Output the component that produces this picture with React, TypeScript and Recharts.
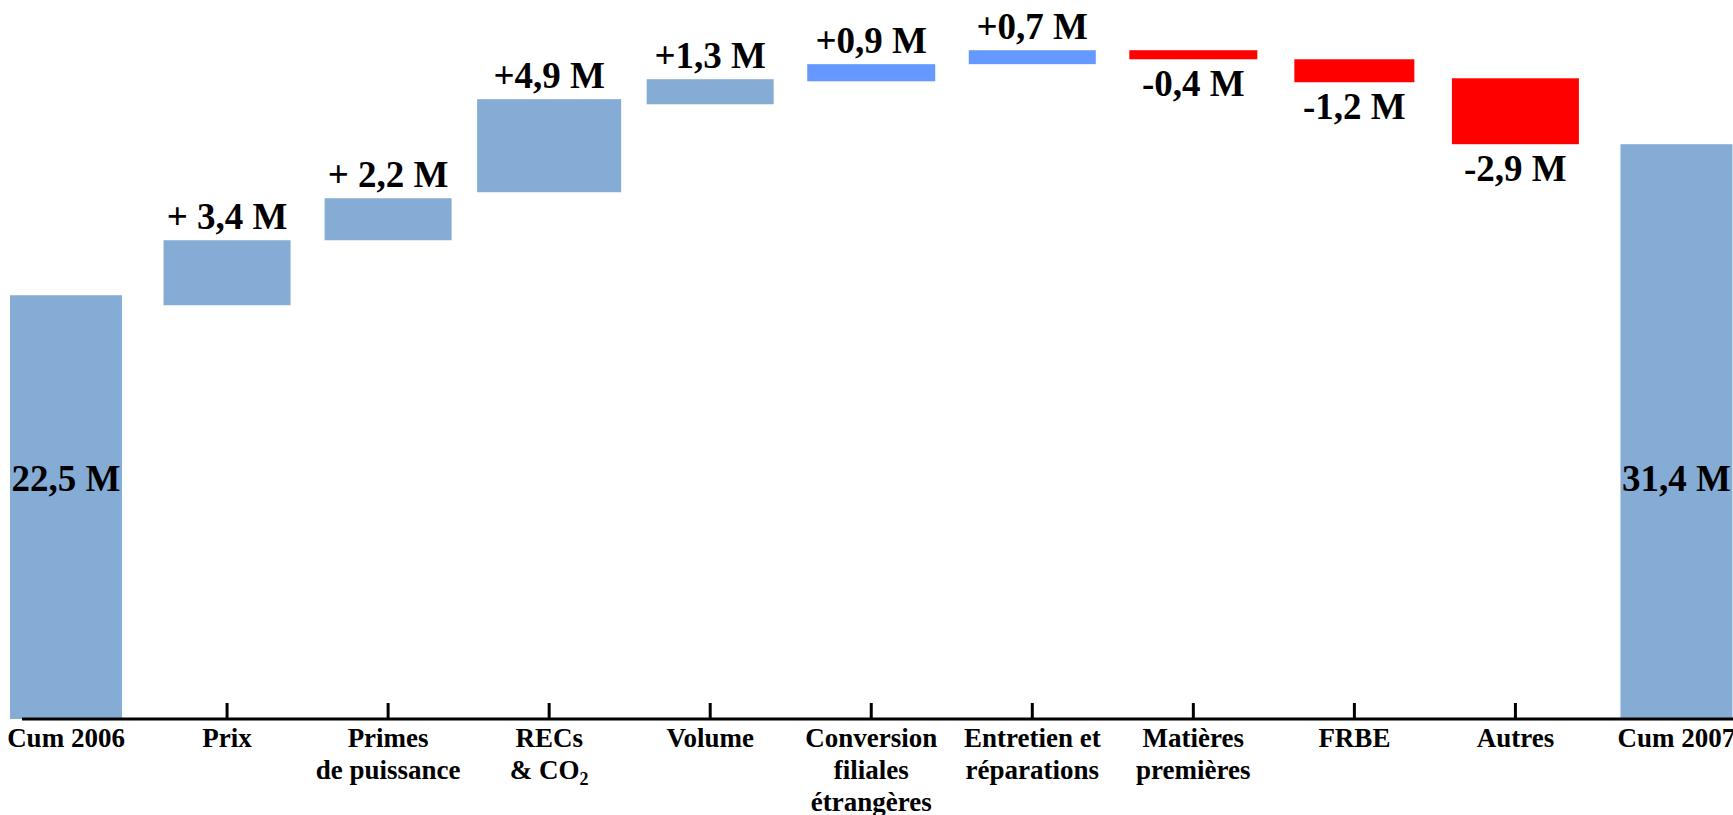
import React from 'react';
import { BarChart, Bar, XAxis, YAxis, LabelList } from 'recharts';

// ---- data (millions) ----
const categories = [
  'Cum 2006',
  'Prix',
  'Primes de puissance',
  'RECs & CO2',
  'Volume',
  'Conversion filiales étrangères',
  'Entretien et réparations',
  'Matières premières',
  'FRBE',
  'Autres',
  'Cum 2007',
];
const tickLines: string[][] = [
  ['Cum 2006'],
  ['Prix'],
  ['Primes', 'de puissance'],
  ['RECs', '& CO_2'],
  ['Volume'],
  ['Conversion', 'filiales', 'étrangères'],
  ['Entretien et', 'réparations'],
  ['Matières', 'premières'],
  ['FRBE'],
  ['Autres'],
  ['Cum 2007'],
];
const barLow = [0, 21.97, 25.42, 27.97, 32.64, 33.86, 34.77, 35.03, 33.81, 30.52, 0];
const barHigh = [22.5, 25.42, 27.65, 32.91, 33.97, 34.77, 35.51, 35.51, 35.03, 34.02, 30.52];
const barKind = ['total', 'up', 'up', 'up', 'up', 'fx', 'fx', 'down', 'down', 'down', 'total'];
const valueLabels = ['22,5 M', '+ 3,4 M', '+ 2,2 M', '+4,9 M', '+1,3 M', '+0,9 M', '+0,7 M', '-0,4 M', '-1,2 M', '-2,9 M', '31,4 M'];

// ---- styles ----
const COLORS: Record<string, string> = {
  total: '#84ACD4',
  up: '#84ACD4',
  fx: '#6699FF',
  down: '#FF0000',
};
const BAR_WIDTHS = [112, 127, 127, 144, 127, 128, 127, 128, 120, 127, 112];
const FONT = '"Liberation Serif", "Times New Roman", serif';

const data = categories.map((name, i) => ({ name, range: [barLow[i], barHigh[i]] }));

const BarShape = (props: any) => {
  const { x, y, width, height, index } = props;
  const w = BAR_WIDTHS[index] ?? width;
  const cx = x + width / 2;
  const top = Math.min(y, y + height);
  return <rect x={cx - w / 2} y={top} width={w} height={Math.abs(height)} fill={COLORS[barKind[index]]} />;
};

const ValueLabel = (props: any) => {
  const vb = props.viewBox || props;
  const x = Number(props.x ?? vb.x);
  const y = Number(props.y ?? vb.y);
  const width = Number(props.width ?? vb.width);
  const height = Number(props.height ?? vb.height);
  const index = props.index;
  if (index == null) return null;
  const top = Math.min(y, y + height);
  const bottom = Math.max(y, y + height);
  const cx = x + width / 2;
  const kind = barKind[index];
  let ty = top - 11;
  if (kind === 'down') ty = bottom + 37;
  if (kind === 'total') ty = bottom - 228;
  return (
    <text x={cx} y={ty} textAnchor="middle" fontFamily={FONT} fontWeight="bold" fontSize={37} fill="#000">
      {valueLabels[index]}
    </text>
  );
};

const renderLine = (l: string) => {
  if (l.includes('_')) {
    const [a, b] = l.split('_');
    return (
      <>
        <tspan>{a}</tspan>
        <tspan fontSize={18} dy={6}>{b}</tspan>
      </>
    );
  }
  return l;
};

const Tick = (props: any) => {
  const { x, y, payload } = props;
  const i = payload?.index ?? props.index ?? categories.indexOf(payload?.value);
  const lines = tickLines[i] || [String(payload?.value)];
  return (
    <g>
      {barKind[i] !== 'total' && (
        <line x1={x} x2={x} y1={y - 16} y2={y} stroke="#000" strokeWidth={3} />
      )}
      {lines.map((l, k) => (
        <text
          key={k}
          x={x}
          y={y + 28 + k * 32}
          textAnchor="middle"
          fontFamily={FONT}
          fontWeight="bold"
          fontSize={27}
          fill="#000"
        >
          {renderLine(l)}
        </text>
      ))}
    </g>
  );
};

export default function App() {
  return (
    <div
      style={{
        position: 'absolute',
        left: 0,
        top: 0,
        width: 1733,
        height: 815,
        overflow: 'hidden',
        background: '#fff',
      }}
    >
      <BarChart
        width={1757}
        height={815}
        data={data}
        margin={{ top: 41, right: 0, bottom: 0, left: 22 }}
      >
        <XAxis
          dataKey="name"
          height={96}
          interval={0}
          padding={{ left: -36.5, right: 0 }}
          axisLine={{ stroke: '#000', strokeWidth: 3 }}
          tickLine={false}
          tickSize={0}
          tickMargin={0}
          tick={(p: any) => <Tick {...p} />}
        />
        <YAxis hide type="number" domain={[0, 36]} />
        <Bar dataKey="range" barSize={127} isAnimationActive={false} shape={(p: any) => <BarShape {...p} />}>
          <LabelList dataKey="range" content={(p: any) => <ValueLabel {...p} />} />
        </Bar>
      </BarChart>
    </div>
  );
}
